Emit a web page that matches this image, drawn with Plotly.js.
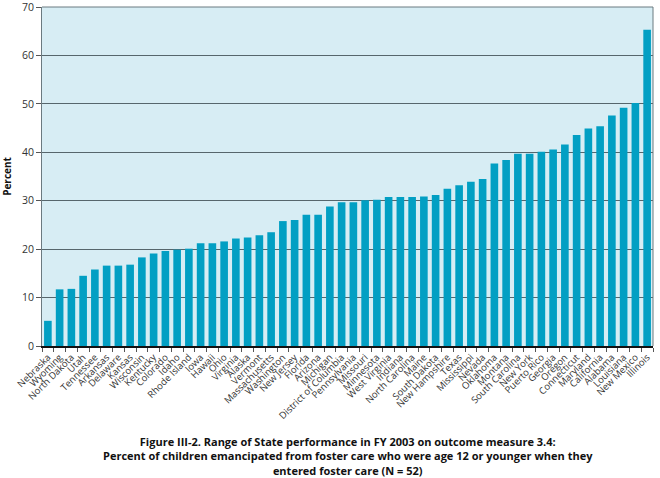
<!DOCTYPE html>
<html>
<head>
<meta charset="utf-8">
<script src="https://cdn.plot.ly/plotly-3.0.1.min.js"></script>
<style>html,body{margin:0;padding:0;background:#fff;}#chart{width:660px;height:478px;}</style>
</head>
<body>
<div id="chart"></div>
<script>
const states = ["Nebraska","Wyoming","North Dakota","Utah","Tennessee","Arkansas","Delaware","Kansas","Wisconsin","Kentucky","Colorado","Idaho","Rhode Island","Iowa","Hawaii","Ohio","Virginia","Alaska","Vermont","Massachusetts","Washington","New Jersey","Florida","Arizona","Michigan","District of Columbia","Pennsylvania","Missouri","Minnesota","West Virginia","Indiana","North Carolina","Maine","South Dakota","New Hampshire","Texas","Mississippi","Nevada","Oklahoma","Montana","South Carolina","New York","Puerto Rico","Georgia","Oregon","Connecticut","Maryland","California","Alabama","Louisiana","New Mexico","Illinois"];
const percent = [5.2,11.7,11.8,14.5,15.8,16.6,16.6,16.8,18.3,19.1,19.6,19.9,20.1,21.2,21.2,21.6,22.2,22.4,22.9,23.5,25.8,26.0,27.1,27.1,28.8,29.7,29.7,30.1,30.2,30.8,30.8,30.8,30.9,31.2,32.5,33.2,33.9,34.5,37.7,38.4,39.7,39.7,40.1,40.6,41.6,43.6,44.9,45.4,47.6,49.2,50.2,65.3];
const yTicks = [0,10,20,30,40,50,60,70];
const captionText = "Figure III-2. Range of State performance in FY 2003 on outcome measure 3.4:<br>Percent of children emancipated from foster care who were age 12 or younger when they<br>entered foster care (N = 52)";

const trace = {
  type: "bar",
  x: states,
  y: percent,
  marker: {color: "#029fc3", line: {width: 0}},
  hoverinfo: "x+y"
};

const layout = {
  width: 660, height: 478,
  margin: {l: 42, r: 7, t: 7, b: 132},
  paper_bgcolor: "#ffffff",
  plot_bgcolor: "#d7edf4",
  bargap: 0.35,
  showlegend: false,
  font: {family: "Open Sans, Lato, sans-serif", color: "#333"},
  xaxis: {
    type: "category",
    tickmode: "array",
    tickvals: states,
    ticktext: states,
    tickangle: -45,
    tickfont: {size: 9.5, color: "#333"},
    ticks: "outside", ticklen: 4, tickcolor: "#555", tickson: "boundaries",
    showline: true, linecolor: "#111", linewidth: 2,
    mirror: false,
    showgrid: false,
    automargin: false
  },
  yaxis: {
    range: [0, 70.02],
    tickvals: yTicks,
    ticktext: yTicks.map(String),
    tickfont: {size: 10.5, color: "#333"},
    ticklabeloverflow: "allow",
    ticks: "outside", ticklen: 5, tickcolor: "#555",
    showgrid: true, gridcolor: "#56666c", gridwidth: 1,
    showline: true, linecolor: "#6b7a80", linewidth: 1,
    zeroline: false,
    title: {text: "Percent", font: {size: 10, color: "#111", weight: "bold"}, standoff: 10},
    automargin: false
  },
  shapes: [
    {type: "line", xref: "paper", yref: "paper", x0: 0, x1: 1, y0: 1, y1: 1, line: {color: "#6b7a80", width: 1}},
    {type: "line", xref: "paper", yref: "paper", x0: 1, x1: 1, y0: 0, y1: 1, line: {color: "#6b7a80", width: 1}}
  ],
  annotations: [{
    xref: "paper", yref: "paper",
    x: 0.5, y: -0.253, xanchor: "center", yanchor: "top",
    text: captionText,
    showarrow: false,
    align: "center",
    font: {size: 11, color: "#111", weight: "bold"}
  }]
};

Plotly.newPlot("chart", [trace], layout, {displayModeBar: false, staticPlot: true});
</script>
</body>
</html>
